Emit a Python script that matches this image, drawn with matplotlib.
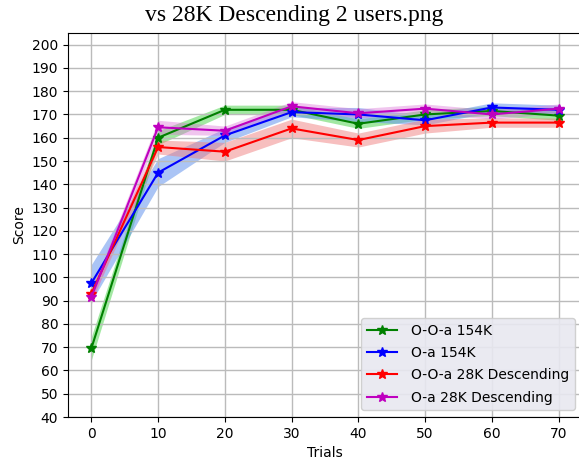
import matplotlib
matplotlib.use("Agg")
import matplotlib.pyplot as plt
import numpy as np

trials = [0, 10, 20, 30, 40, 50, 60, 70]

ooa_154k = [69.5, 160, 172, 172, 166, 170, 171.5, 169.5]
ooa_154k_std = [5, 3, 2, 2, 2, 2, 2, 2]
oa_154k = [97.5, 145, 161, 171, 170, 167.5, 173, 172]
oa_154k_std = [8, 6, 3, 2, 3, 2, 2, 2]
ooa_28k = [93, 156, 154, 164, 159, 165, 166.5, 166.5]
ooa_28k_std = [3, 3, 4, 4, 3, 3, 2, 2]
oa_28k = [91.5, 164.5, 163, 173.5, 170.5, 172.5, 170, 172.5]
oa_28k_std = [3, 3, 2, 2, 2, 2, 2, 2]

labels = ["O-O-a 154K", "O-a 154K", "O-O-a 28K Descending", "O-a 28K Descending"]

fig = plt.figure(figsize=(5.79, 4.61), dpi=100)
ax = fig.add_axes([68 / 579, 44 / 461, 514 / 579, 384 / 461])

x = np.array(trials)
series = [
    (ooa_154k, ooa_154k_std, "g", "limegreen", 0.45),
    (oa_154k, oa_154k_std, "b", "cornflowerblue", 0.55),
    (ooa_28k, ooa_28k_std, "r", "lightcoral", 0.5),
    (oa_28k, oa_28k_std, "m", "orchid", 0.4),
]
for (vals, std, c, fc, a), lab in zip(series, labels):
    v = np.array(vals)
    s = np.array(std)
    ax.fill_between(x, v - s, v + s, color=fc, alpha=a, linewidth=0)
    ax.plot(x, v, color=c, marker="*", markersize=7.5, label=lab)

ax.set_ylim(40, 205)
ax.set_yticks(np.arange(40, 201, 10))
ax.set_xticks(np.arange(0, 71, 10))
ax.grid(True, color="#bbbbbb", linewidth=1)
ax.set_xlabel("Trials")
ax.set_ylabel("Score")
ax.legend(loc="lower right", facecolor="#e8e8f0", framealpha=0.9, fontsize=10,
          handlelength=2.2, handletextpad=1.0, labelspacing=0.6)

fig.text(294 / 579, 1 - 15 / 461, "vs 28K Descending 2 users.png",
         family="Liberation Serif", fontsize=17, ha="center", va="center")

fig.savefig("out.png", dpi=100)
